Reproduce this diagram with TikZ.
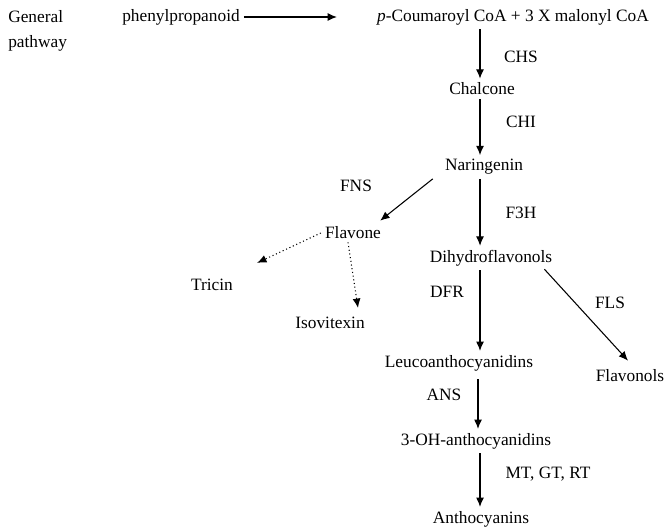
\documentclass[tikz,border=0pt]{standalone}
\usepackage{fontspec}
\setmainfont{Liberation Serif}
\usetikzlibrary{positioning,calc}
\usetikzlibrary{arrows.meta}
\tikzset{>={Latex[length=7pt,width=6pt]}}
\tikzstyle{cmpd}=[font=\fontsize{13}{15}\selectfont, inner sep=3pt]
\tikzstyle{enz}=[font=\fontsize{13}{15}\selectfont, inner sep=0pt]
\tikzstyle{rxn}=[->, line width=0.8pt]
\tikzstyle{side}=[->, dotted, line width=0.8pt]

\begin{document}
\begin{tikzpicture}[x=0.75pt, y=-0.75pt]
    \useasboundingbox (0,0) rectangle (667,530);
    \coordinate (spine) at (480,0);

    % compounds
    \node[enz, anchor=west] (gen) at (8,17) {General};
    \node[enz, anchor=west] (path) at (8,43) {pathway};
    \node[cmpd, anchor=west] (phenyl) at (118,17) {phenylpropanoid};
    \node[cmpd] (coum) at (513,17) {\textit{p}-Coumaroyl CoA + 3 X malonyl CoA};
    \node[cmpd] (chal) at (482,89) {Chalcone};
    \node[cmpd] (narin) at (484,167) {Naringenin};
    \node[cmpd] (flavone) at (353,233) {Flavone};
    \node[cmpd] (tricin) at (212,285) {Tricin};
    \node[cmpd] (isovit) at (330,323) {Isovitexin};
    \node[cmpd] (dihyd) at (491,258) {Dihydroflavonols};
    \node[cmpd] (flavonol) at (630,376) {Flavonols};
    \node[cmpd] (leuco) at (459,363) {Leucoanthocyanidins};
    \node[cmpd] (ohanth) at (476,441) {3-OH-anthocyanidins};
    \node[cmpd] (anth) at (481,519) {Anthocyanins};

    % enzymes
    \node[enz] (chs) at (521,57) {CHS};
    \node[enz] (chi) at (521,122) {CHI};
    \node[enz] (fns) at (356,186) {FNS};
    \node[enz] (fth) at (521,213) {F3H};
    \node[enz] (dfr) at (447,292) {DFR};
    \node[enz] (fls) at (610,303) {FLS};
    \node[enz] (ans) at (444,395) {ANS};
    \node[enz] (mgr) at (548,474) {MT, GT, RT};

    % general pathway
    \draw[rxn, shorten >=27pt] (phenyl) -- (coum);
    \draw[rxn] (coum.south -| spine) -- (chal.north -| spine);
    \draw[rxn] (chal.south -| spine) -- (narin.north -| spine);

    % branches
    \draw[rxn] ($(narin.south west)+(-8,0)$) -- ($(flavone.north east)+(-5,-2)$);
    \draw[rxn] (narin.south -| spine) -- (dihyd.north -| spine);
    \draw[side] (flavone.west) -- ($(tricin.north east)+(20,-12)$);
    \draw[side] ($(flavone.south)+(-5,-1)$) -- ($(isovit.north)+(28,-5)$);
    \draw[rxn] ($(dihyd.south east)+(-12,-1)$) -- ($(flavonol.north)+(-2,-5)$);
    \draw[rxn] (dihyd.south -| spine) -- (leuco.north -| spine);
    \draw[rxn] ($(leuco.south -| spine)+(-2,4)$) -- ($(ohanth.north -| spine)+(-2,0)$);
    \draw[rxn] (ohanth.south -| spine) -- (anth.north -| spine);
\end{tikzpicture}
\end{document}
